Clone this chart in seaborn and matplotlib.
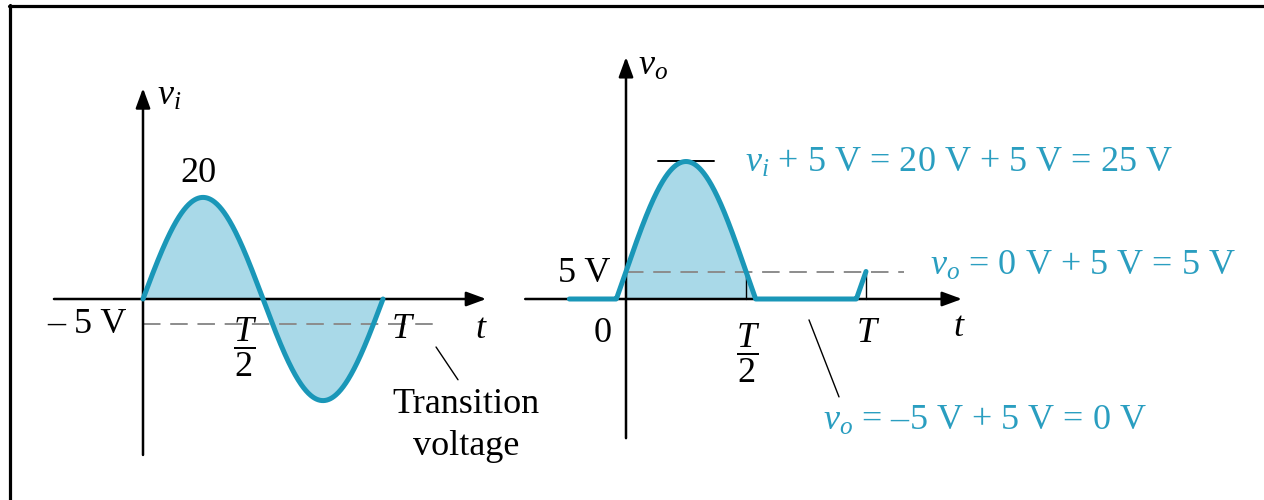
import numpy as np
import matplotlib
matplotlib.use("Agg")
import matplotlib.pyplot as plt
import seaborn as sns
from matplotlib.lines import Line2D

# ---------------- data ----------------
vi_peak = 20.0        # V, input amplitude
dc_shift = 5.0        # V, clamping shift
period = 1.0          # T
transition_v = -5.0   # V, transition voltage
t_in = np.linspace(0.0, period, 400)
vi = vi_peak * np.sin(2 * np.pi * t_in / period)
t_out = np.linspace(-0.236, period, 700)
vo = np.clip(vi_peak * np.sin(2 * np.pi * t_out / period) + dc_shift, 0, None)
tick_labels_in = ["\u2013 5 V", r"$\dfrac{T}{2}$", r"$T$", r"$t$"]
tick_labels_out = ["5 V", "0", r"$\dfrac{T}{2}$", r"$T$", r"$t$"]
eq_peak = r"$v_i$ + 5 V = 20 V + 5 V = 25 V"
eq_on = "$v_o$ = 0 V + 5 V = 5 V"
eq_off = "$v_o$ = \u20135 V + 5 V = 0 V"

# ---------------- style ----------------
sns.set_style("white")
plt.rcParams["font.family"] = ["Liberation Serif", "DejaVu Serif"]
plt.rcParams["mathtext.fontset"] = "custom"
plt.rcParams["mathtext.rm"] = "Liberation Serif"
plt.rcParams["mathtext.it"] = "Liberation Serif:italic"
plt.rcParams["mathtext.bf"] = "Liberation Serif:bold"
plt.rcParams["text.color"] = "black"

CURVE = "#1a97b8"
FILL = "#a9d9e8"
TEXTC = "#2a9ec0"
DASH = "#8c8c8c"
FS = 26

W, H = 1264, 500
fig = plt.figure(figsize=(12.64, 5), dpi=100)
fig.patch.set_facecolor("white")


def make_axes(x0, y0, px_t, px_v):
    ax = fig.add_axes([0, 0, 1, 1])
    ax.set_xlim(-x0 / px_t, (W - x0) / px_t)
    ax.set_ylim((y0 - H) / px_v, y0 / px_v)
    ax.axis("off")
    ax.patch.set_alpha(0)
    return ax


def axis_arrow(ax, start, end):
    ax.annotate("", xy=end, xytext=start,
                arrowprops=dict(arrowstyle="-|>,head_length=0.6,head_width=0.22",
                                lw=1.8, color="black", shrinkA=0, shrinkB=0,
                                mutation_scale=20))


axL = make_axes(143, 299, 240, 5.08)
axR = make_axes(626, 299, 240, 5.5)

# ---------------- left panel (v_i) ----------------
axL.fill_between(t_in, vi, 0, color=FILL, lw=0, zorder=1)
axL.plot([0, 1.225], [transition_v, transition_v], color=DASH, lw=1.4,
         dashes=(9, 5), zorder=2)
axis_arrow(axL, (-0.371, 0), (1.43, 0))
axis_arrow(axL, (0, -30.7), (0, 41.5))
sns.lineplot(x=t_in, y=vi, ax=axL, color=CURVE, lw=3.6, zorder=4, legend=False)

axL.text(-0.067, transition_v, tick_labels_in[0], ha="right", va="center",
         fontsize=FS)
axL.text(0.425, -9.6, tick_labels_in[1], ha="center", va="center", fontsize=FS)
axL.text(1.083, -6.1, tick_labels_in[2], ha="center", va="center", fontsize=FS)
axL.text(1.41, -6.1, tick_labels_in[3], ha="center", va="center", fontsize=FS)
axL.text(0.11, 39.8, r"$v_i$", ha="center", va="center", fontsize=FS)
axL.text(0.23, 24.8, "%d" % vi_peak, ha="center", va="center", fontsize=FS)
axL.text(1.346, -22.4, "Transition", ha="center", va="baseline", fontsize=FS)
axL.text(1.346, -30.7, "voltage", ha="center", va="baseline", fontsize=FS)
axL.plot([1.221, 1.3125], [-9.45, -15.9], color="black", lw=1.0)

# ---------------- right panel (v_o) ----------------
mask = (t_out >= 0) & (t_out <= 0.56)
axR.fill_between(t_out[mask], vo[mask], 0, color=FILL, lw=0, zorder=1)
axR.plot([0, 1.16], [dc_shift, dc_shift], color=DASH, lw=1.4,
         dashes=(9, 5), zorder=2)
axR.plot([0.5, 0.5], [0, dc_shift], color="black", lw=1.0, zorder=3)
axR.plot([1.0, 1.0], [0, dc_shift], color="black", lw=1.0, zorder=3)
axR.plot([0.133, 0.367], [vi_peak + dc_shift] * 2, color="black", lw=1.4, zorder=3)
axis_arrow(axR, (-0.42, 0), (1.40, 0))
axis_arrow(axR, (0, -25.3), (0, 44.0))
sns.lineplot(x=t_out, y=vo, ax=axR, color=CURVE, lw=3.6, zorder=4, legend=False)

axR.text(0.1125, 42.2, r"$v_o$", ha="center", va="center", fontsize=FS)
axR.text(-0.067, 4.7, tick_labels_out[0], ha="right", va="center", fontsize=FS)
axR.text(-0.096, -6.2, tick_labels_out[1], ha="center", va="center", fontsize=FS)
axR.text(0.508, -9.8, tick_labels_out[2], ha="center", va="center", fontsize=FS)
axR.text(1.01, -6.2, tick_labels_out[3], ha="center", va="center", fontsize=FS)
axR.text(1.39, -5.1, tick_labels_out[4], ha="center", va="center", fontsize=FS)

axR.text(0.496, 23.1, eq_peak, ha="left", va="baseline", fontsize=FS, color=TEXTC)
axR.text(1.267, 4.36, eq_on, ha="left", va="baseline", fontsize=FS, color=TEXTC)
axR.text(0.82, -23.8, eq_off, ha="left", va="baseline", fontsize=FS, color=TEXTC)
axR.plot([0.7625, 0.8875], [-3.8, -17.8], color="black", lw=1.0)

# ---------------- frame ----------------
fig.add_artist(Line2D([10.5 / W, 10.5 / W], [0, 1 - 5 / H], color="black",
                      lw=2.3, transform=fig.transFigure))
fig.add_artist(Line2D([9 / W, 1], [1 - 6 / H, 1 - 6 / H], color="black",
                      lw=2.3, transform=fig.transFigure))

fig.savefig("out.png", dpi=100, facecolor="white")
